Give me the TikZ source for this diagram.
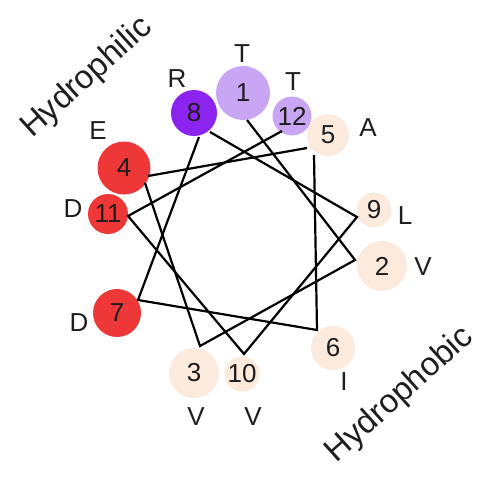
\documentclass[tikz,border=0pt]{standalone}
\usepackage{fontspec}
\setmainfont{Liberation Sans}
\definecolor{lpurple}{RGB}{201,166,244}
\definecolor{dpurple}{RGB}{138,36,238}
\definecolor{redc}{RGB}{238,55,55}
\definecolor{peach}{RGB}{252,235,221}
\definecolor{txt}{RGB}{30,30,30}
\begin{document}
\begin{tikzpicture}[x=1pt,y=-1pt,
  res/.style={circle, inner sep=0pt, minimum size=#1, text=txt,
    font=\fontsize{26}{30}\selectfont},
  lbl/.style={inner sep=0pt, text=txt, font=\fontsize{26}{30}\selectfont},
  side/.style={inner sep=0pt, text=txt, rotate=42, font=\fontsize{33}{37}\selectfont},
  link/.style={line width=2.2pt, black, line join=miter}]
\useasboundingbox (0,0) rectangle (481,477);
% residues
\node[res=54, fill=lpurple] (r1) at (243,93) {1};
\node[res=50, fill=peach] (r2) at (382,266) {2};
\node[res=50, fill=peach] (r3) at (194,373) {3};
\node[res=53, fill=redc] (r4) at (124,168) {4};
\node[res=42, fill=peach] (r5) at (328,135) {5};
\node[res=44, fill=peach] (r6) at (333,348) {6};
\node[res=48, fill=redc] (r7) at (117,313) {7};
\node[res=46, fill=dpurple] (r8) at (194,113) {8};
\node[res=35, fill=peach] (r9) at (374,210) {9};
\node[res=35, fill=peach] (r10) at (242,374) {10};
\node[res=40, fill=redc] (r11) at (108,214) {11};
\node[res=39, fill=lpurple] (r12) at (292,116) {12};
% vertices of the wheel
\coordinate (v1) at (247,120);
\coordinate (v2) at (355,260);
\coordinate (v3) at (200,346);
\coordinate (v4in) at (145,183);
\coordinate (v4out) at (148,176);
\coordinate (v5in) at (307,148);
\coordinate (v5out) at (314,155);
\coordinate (v6) at (317,330);
\coordinate (v7) at (138,300);
\coordinate (v8in) at (199,137);
\coordinate (v8out) at (210,132);
\coordinate (v9) at (357,217);
\coordinate (v10) at (244,354);
\coordinate (v11) at (128,216);
\coordinate (v12) at (282,131);
\draw[link] (v1) -- (v2) -- (v3) -- (v4in);
\draw[link] (v4out) -- (v5in);
\draw[link] (v5out) -- (v6) -- (v7) -- (v8in);
\draw[link] (v8out) -- (v9) -- (v10) -- (v11) -- (v12);
% amino acid letters
\node[lbl] (a1) at (242,54) {T};
\node[lbl] (a8) at (177,79) {R};
\node[lbl] (a12) at (293,82) {T};
\node[lbl] (a5) at (368,128) {A};
\node[lbl] (a4) at (98,131) {E};
\node[lbl] (a11) at (73,209) {D};
\node[lbl] (a9) at (405,216) {L};
\node[lbl] (a2) at (423,267) {V};
\node[lbl] (a7) at (79,323) {D};
\node[lbl] (a3) at (196,417) {V};
\node[lbl] (a10) at (253,417) {V};
\node[lbl] (a6) at (344,382) {I};
% side labels
\node[side] (philic) at (87,78) {Hydrophilic};
\node[side] (phobic) at (400,395) {Hydrophobic};
\end{tikzpicture}
\end{document}
